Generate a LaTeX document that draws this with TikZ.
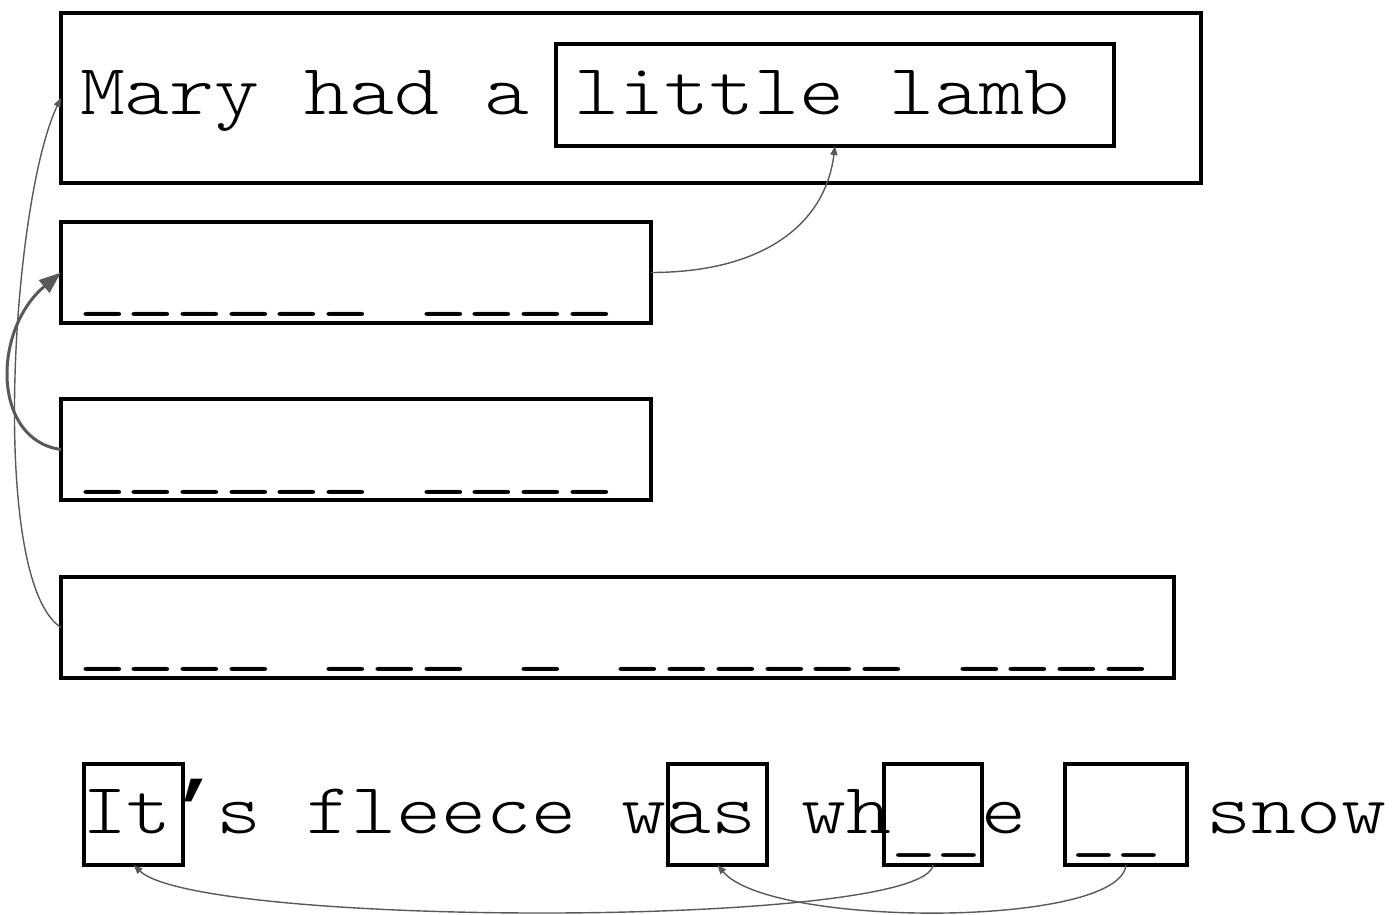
\documentclass[tikz,border=0pt]{standalone}
\usepackage{fontspec}
\newfontfamily\monofam{Latin Modern Mono Light}[FakeStretch=1.19]
\newfontfamily\libmono{Liberation Mono}
\usetikzlibrary{arrows.meta}
\definecolor{linkgray}{HTML}{595959}
\begin{document}
\begin{tikzpicture}[x=1pt,y=-1pt,
  box/.style={draw=black,line width=3.2pt,inner sep=0pt,outer sep=0pt,rectangle},
  txt/.style={inner sep=0pt,outer sep=0pt,anchor=base west,font=\monofam\fontsize{72}{80}\selectfont},
  blank/.style={inner sep=0pt,outer sep=0pt,anchor=base west,font=\monofam\fontsize{78}{86}\selectfont},
  link/.style={draw=linkgray,line width=1.4pt,-{Triangle[length=9pt,width=7pt]}},
  biglink/.style={draw=linkgray,line width=3pt,-{Triangle[length=22pt,width=16pt]}}]
\useasboundingbox (0,0) rectangle (1393,915);

% texts
\node[txt] (t1) at (80,115) {Mary had a little lamb};
\node[blank] (t2) at (78,302) {\_\_\_\_\_\_ \_\_\_\_};
\node[blank] (t3) at (78,480) {\_\_\_\_\_\_ \_\_\_\_};
\node[blank] (t4) at (78,657) {\_\_\_\_ \_\_\_ \_ \_\_\_\_\_\_ \_\_\_\_};
\node[txt] (t5) at (82,833) {It\makebox[45pt][c]{\libmono\fontsize{75}{80}\selectfont\bfseries ’}s fleece was wh\raisebox{-11pt}{\_\_}e \raisebox{-11pt}{\_\_} snow};

% boxes
\node[box,minimum width=1140pt,minimum height=170pt] (b1) at (631,98) {};
\node[box,minimum width=558pt,minimum height=102pt] (ll) at (835,95) {};
\node[box,minimum width=590pt,minimum height=101pt] (b2) at (356,272.5) {};
\node[box,minimum width=590pt,minimum height=101pt] (b3) at (356,449.5) {};
\node[box,minimum width=1113pt,minimum height=101pt] (b4) at (617.5,627.5) {};
\node[box,minimum width=99pt,minimum height=101pt] (it) at (133.5,814.5) {};
\node[box,minimum width=99pt,minimum height=101pt] (as) at (717.5,814.5) {};
\node[box,minimum width=98pt,minimum height=101pt] (g1) at (933,814.5) {};
\node[box,minimum width=122pt,minimum height=101pt] (g2) at (1126,814.5) {};

% connectors
\draw[link] (b2.east) .. controls +(110,0) and +(-10,80) .. (ll.south);
\draw[biglink] (b3.west) .. controls (-8,440) and (-8,330) .. (b2.west);
\draw[link] (b4.west) .. controls (-12,580) and (12,200) .. (b1.west);
\draw[link] (g1.south) .. controls (925,928) and (200,928) .. (it.south);
\draw[link] (g2.south) .. controls (1120,928) and (770,928) .. (as.south);
\end{tikzpicture}
\end{document}
